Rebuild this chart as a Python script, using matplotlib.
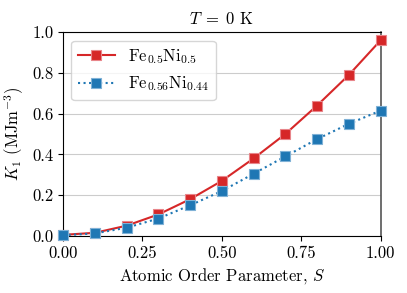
import matplotlib
matplotlib.use("Agg")
import matplotlib.pyplot as plt

plt.rcParams["font.family"] = "serif"
plt.rcParams["font.serif"] = ["cmr10"]
plt.rcParams["mathtext.fontset"] = "cm"
plt.rcParams["axes.formatter.use_mathtext"] = True

order = [0.0, 0.1, 0.2, 0.3, 0.4, 0.5, 0.6, 0.7, 0.8, 0.9, 1.0]
k1_fe50 = [0.005, 0.015, 0.05, 0.105, 0.18, 0.27, 0.38, 0.50, 0.64, 0.79, 0.96]
k1_fe56 = [0.003, 0.012, 0.04, 0.085, 0.15, 0.22, 0.305, 0.39, 0.475, 0.55, 0.615]

fig, ax = plt.subplots(figsize=(4.07, 2.93), dpi=100)

ax.plot(order, k1_fe50, "-", color="#d62728", marker="s", markersize=6.5,
        markeredgecolor="#e8858a", markeredgewidth=0.8, linewidth=1.5,
        label=r"Fe$_{0.5}$Ni$_{0.5}$", clip_on=False, zorder=3)
ax.plot(order, k1_fe56, ":", color="#1f77b4", marker="s", markersize=6.5,
        markeredgecolor="#7fb1d6", markeredgewidth=0.8, linewidth=1.5,
        label=r"Fe$_{0.56}$Ni$_{0.44}$", clip_on=False, zorder=3)

ax.set_xlim(0, 1.0)
ax.set_ylim(0, 1.0)
ax.set_xticks([0, 0.25, 0.5, 0.75, 1.0])
ax.set_xticklabels(["0.00", "0.25", "0.50", "0.75", "1.00"])
ax.set_yticks([0, 0.2, 0.4, 0.6, 0.8, 1.0])
ax.set_yticklabels(["0.0", "0.2", "0.4", "0.6", "0.8", "1.0"])
ax.tick_params(labelsize=12)
ax.yaxis.grid(True, color="#cccccc", linewidth=0.8)
ax.set_axisbelow(True)
ax.spines["right"].set_color("#555555")
ax.spines["right"].set_linewidth(1.2)

ax.set_xlabel(r"Atomic Order Parameter, $S$", fontsize=12)
ax.set_ylabel(r"$K_1$ (MJm$^{-3}$)", fontsize=12)
ax.set_title(r"$T\;=\;0$ K", fontsize=12)
ax.legend(loc="upper left", fontsize=12, handlelength=2.2)

fig.subplots_adjust(left=0.155, right=0.935, top=0.89, bottom=0.195)
fig.savefig("out.png", dpi=100)
